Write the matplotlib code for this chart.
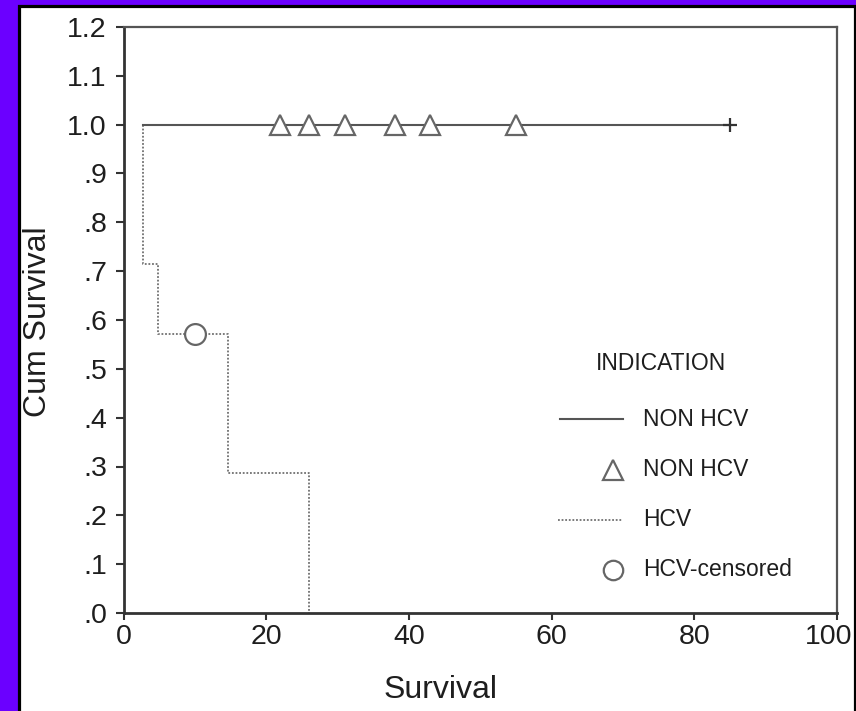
import matplotlib
matplotlib.use("Agg")
import matplotlib.pyplot as plt
from matplotlib.patches import Rectangle
from matplotlib.lines import Line2D
from matplotlib.ticker import FixedLocator, FixedFormatter
import matplotlib.transforms as mtransforms

plt.rcParams['font.family'] = ['Liberation Sans', 'DejaVu Sans']

# ---- data ----
start_time = 2.7
hcv_event_times = [2.7, 4.8, 14.7, 26.0]
hcv_survival = [0.714, 0.571, 0.286, 0.0]
hcv_censored_times = [10.0]
hcv_censored_surv = [0.571]

nonhcv_end_time = 85.0
nonhcv_censored_times = [22, 26, 31, 38, 43, 55]
nonhcv_censored_surv = [1.0, 1.0, 1.0, 1.0, 1.0, 1.0]

y_ticks = [0.0, 0.1, 0.2, 0.3, 0.4, 0.5, 0.6, 0.7, 0.8, 0.9, 1.0, 1.1, 1.2]
y_tick_labels = ['.0', '.1', '.2', '.3', '.4', '.5', '.6', '.7', '.8', '.9', '1.0', '1.1', '1.2']
x_ticks = [0, 20, 40, 60, 80, 100]
x_tick_labels = ['0', '20', '40', '60', '80', '100']

legend_title = 'INDICATION'
legend_labels = ['NON HCV', 'NON HCV', 'HCV', 'HCV-censored']

W, H = 856, 711
fig = plt.figure(figsize=(W / 100, H / 100), dpi=100)
fig.patch.set_facecolor('#6b00ff')

# white panel with black border
panel = Rectangle((18.5 / W, -0.05), (854.5 - 18.5) / W, 1.05 - 6.5 / H,
                  transform=fig.transFigure, facecolor='white',
                  edgecolor='black', linewidth=2.3, zorder=-10)
fig.patches.append(panel)

L, R, T, B = 123.5, 837.0, 27.0, 613.0
ax = fig.add_axes([L / W, 1 - B / H, (R - L) / W, (B - T) / H])
ax.set_zorder(5)
ax.set_facecolor('white')

line_col = '#555555'
dot_col = '#707070'
text_col = '#1e1e1e'

# HCV step curve
hx = [start_time] + hcv_event_times
hy = [1.0] + hcv_survival
ax.plot(hx, hy, drawstyle='steps-post', color=dot_col, lw=1.3,
        linestyle=(0, (1, 1)), zorder=2)
ax.plot(hcv_censored_times, hcv_censored_surv, 'o', ms=15, mfc='white',
        mec='#666666', mew=1.6, zorder=4)

# NON HCV curve
ax.plot([start_time, nonhcv_end_time], [1.0, 1.0], color=line_col, lw=1.5, zorder=3)
ax.plot(nonhcv_censored_times, nonhcv_censored_surv, '^', ms=14, mfc='white',
        mec='#666666', mew=1.6, zorder=4)
ax.plot([nonhcv_end_time], [1.0], '+', ms=10, mew=1.6, color='#333333', zorder=4)

ax.set_xlim(0, 100)
ax.set_ylim(0, 1.2)
ax.xaxis.set_major_locator(FixedLocator(x_ticks))
ax.xaxis.set_major_formatter(FixedFormatter(x_tick_labels))
ax.yaxis.set_major_locator(FixedLocator(y_ticks))
ax.yaxis.set_major_formatter(FixedFormatter(y_tick_labels))
ax.tick_params(axis='both', direction='out', length=6, width=1.5,
               colors='#333333', labelcolor=text_col, labelsize=20.5)
ax.tick_params(axis='y', pad=6)
ax.tick_params(axis='x', pad=3, length=5)

for s in ['left', 'bottom']:
    ax.spines[s].set_linewidth(2.0)
    ax.spines[s].set_color('#333333')
for s in ['top', 'right']:
    ax.spines[s].set_linewidth(1.6)
    ax.spines[s].set_color('#555555')

# nudge the last x tick label left so it sits inside the panel
fig.canvas.draw()
last_lbl = ax.get_xticklabels()[-1]
last_lbl.set_transform(last_lbl.get_transform() +
                       mtransforms.ScaledTranslation(-8 / 100, 0, fig.dpi_scale_trans))

fig.text(38 / W, 1 - 322 / H, 'Cum Survival', rotation=90, ha='center',
         va='center', fontsize=23, color=text_col)
fig.text(441 / W, 1 - 690 / H, 'Survival', ha='center', va='center',
         fontsize=23, color=text_col)

# legend drawn manually in axes fraction coords
def fx(px):
    return (px - L) / (R - L)

def fy(py):
    return (B - py) / (B - T)

ax.text(fx(661), fy(364), legend_title, transform=ax.transAxes, ha='center',
        va='center', fontsize=16.5, color=text_col)
rows = [419, 470, 520, 570]
ax.add_line(Line2D([fx(560), fx(623)], [fy(rows[0])] * 2, transform=ax.transAxes,
                   color=line_col, lw=1.5))
ax.add_line(Line2D([fx(613)], [fy(rows[1])], transform=ax.transAxes, marker='^',
                   ms=14, mfc='white', mec='#666666', mew=1.6, linestyle='none'))
ax.add_line(Line2D([fx(558), fx(623)], [fy(rows[2])] * 2, transform=ax.transAxes,
                   color=dot_col, lw=1.3, linestyle=(0, (1, 1))))
ax.add_line(Line2D([fx(613)], [fy(rows[3])], transform=ax.transAxes, marker='o',
                   ms=14, mfc='white', mec='#666666', mew=1.6, linestyle='none'))
for r, lab in zip(rows, legend_labels):
    ax.text(fx(643), fy(r), lab, transform=ax.transAxes, ha='left', va='center',
            fontsize=16.5, color=text_col)

fig.savefig('out.png', dpi=100, facecolor=fig.get_facecolor())
